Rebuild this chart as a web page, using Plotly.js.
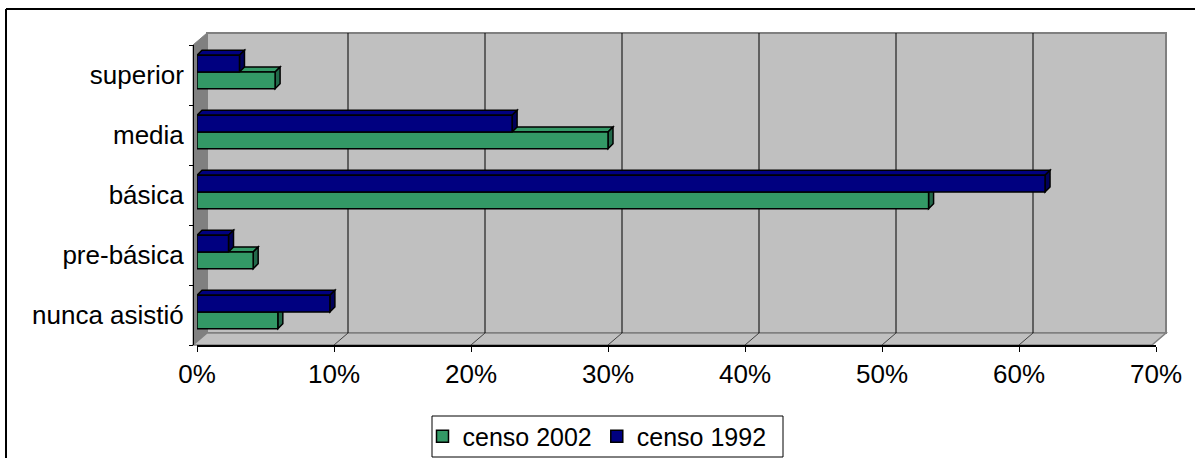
<!DOCTYPE html>
<html>
<head>
<meta charset="utf-8">
<script src="https://cdn.plot.ly/plotly-3.0.1.min.js"></script>
<style>html,body{margin:0;padding:0;background:#fff;overflow:hidden;}#chart{width:1195px;height:458px;}</style>
</head>
<body>
<div id="chart"></div>
<script>
// ---- data ----
const categories = ['nunca asistió', 'pre-básica', 'básica', 'media', 'superior'];
const censo2002 = [5.9, 4.1, 53.4, 30.0, 5.7];
const censo1992 = [9.7, 2.3, 61.9, 23.0, 3.1];
const seriesNames = ['censo 2002', 'censo 1992'];
const xTicks = [0, 10, 20, 30, 40, 50, 60, 70];

// ---- styling / layout constants ----
const W = 1195, H = 458;
const L = 193, R = 39, T = 45, B = 113;         // margins (px)
const PW = W - L - R, PH = H - T - B;            // 963 x 300
const FRONT_W = 959;                              // width of front 0..70 scale
const BAR_SHIFT = 4;                              // bars sit slightly back
const DEPTH_X = 14, DEPTH_Y = 12;                 // back wall offset (px)
const XMAX = 70;
const pxPerX = FRONT_W / XMAX, pxPerY = PH / categories.length;
const DX = 5 / pxPerX, DY = 5 / pxPerY;           // bar depth in data units
const BW = 0.278, OFF2002 = -0.228, OFF1992 = 0.05;
const green = '#339966', greenSide = '#22694a';
const navy = '#000080', navySide = '#00005a';
const FONT = 'Liberation Sans, Arial, sans-serif';
const FS = 26;

const X = px => (px - L) / PW;
const Y = py => (T + PH - py) / PH;

const traces = [
  {type: 'bar', orientation: 'h', name: seriesNames[0], y: categories, x: censo2002,
   offset: OFF2002, width: BW, marker: {color: green, line: {color: '#000', width: 1.5}},
   xaxis: 'x', yaxis: 'y', hoverinfo: 'x+y+name'},
  {type: 'bar', orientation: 'h', name: seriesNames[1], y: categories, x: censo1992,
   offset: OFF1992, width: BW, marker: {color: navy, line: {color: '#000', width: 1.5}},
   xaxis: 'x', yaxis: 'y', hoverinfo: 'x+y+name'}
];

const shapes = [];
const frontBottom = T + PH, backBottom = frontBottom - DEPTH_Y, backTop = T - DEPTH_Y;
const frontRight = L + FRONT_W, backLeft = L + DEPTH_X, backRight = frontRight + DEPTH_X;

// chart area border (top & left visible)
shapes.push({type: 'line', xref: 'paper', yref: 'paper', layer: 'below',
  x0: X(6), x1: X(6), y0: Y(H), y1: Y(9), line: {color: '#000', width: 2}});
shapes.push({type: 'line', xref: 'paper', yref: 'paper', layer: 'below',
  x0: X(6), x1: X(W), y0: Y(9), y1: Y(9), line: {color: '#000', width: 2}});
// legend frame
shapes.push({type: 'rect', xref: 'paper', yref: 'paper', layer: 'below',
  x0: X(432), x1: X(783), y0: Y(457), y1: Y(416),
  fillcolor: '#ffffff', line: {color: '#000', width: 1}});
// back wall
shapes.push({type: 'rect', xref: 'paper', yref: 'paper', layer: 'below',
  x0: X(backLeft), x1: X(backRight), y0: Y(backBottom), y1: Y(backTop),
  fillcolor: '#c0c0c0', line: {color: '#808080', width: 2}});
// left wall
shapes.push({type: 'path', xref: 'paper', yref: 'paper', layer: 'below',
  path: `M${X(L)},${Y(T)} L${X(backLeft)},${Y(backTop)} L${X(backLeft)},${Y(backBottom)} L${X(L)},${Y(frontBottom)} Z`,
  fillcolor: '#808080', line: {color: '#808080', width: 1}});
// floor
shapes.push({type: 'path', xref: 'paper', yref: 'paper', layer: 'below',
  path: `M${X(L)},${Y(frontBottom)} L${X(backLeft)},${Y(backBottom)} L${X(backRight)},${Y(backBottom)} L${X(frontRight)},${Y(frontBottom)} Z`,
  fillcolor: '#c0c0c0', line: {color: '#808080', width: 1.5}});
// back wall gridlines + floor diagonals
xTicks.forEach(v => {
  if (v > 0 && v < XMAX) {
    shapes.push({type: 'line', xref: 'x2', yref: 'paper', layer: 'below',
      xsizemode: 'pixel', xanchor: v, x0: DEPTH_X, x1: DEPTH_X,
      y0: Y(backBottom), y1: Y(backTop), line: {color: '#000', width: 1}});
  }
  if (v > 0) {
    shapes.push({type: 'path', xref: 'x2', yref: 'paper', layer: 'below',
      xsizemode: 'pixel', xanchor: v,
      path: `M0,${Y(frontBottom)} L${DEPTH_X},${Y(backBottom)}`,
      line: {color: '#404040', width: 1}});
  }
});

// 3D faces of bars (drawn below the front faces): 2002 first, then 1992
function addFaces(vals, off, top, side) {
  vals.forEach((v, i) => {
    const b = i + off, t = b + BW;
    shapes.push({type: 'path', xref: 'x', yref: 'y', layer: 'below',
      path: `M0,${t} L${v},${t} L${v + DX},${t + DY} L${DX},${t + DY} Z`,
      fillcolor: top, line: {color: '#000', width: 1.5}});
    shapes.push({type: 'path', xref: 'x', yref: 'y', layer: 'below',
      path: `M${v},${b} L${v},${t} L${v + DX},${t + DY} L${v + DX},${b + DY} Z`,
      fillcolor: side, line: {color: '#000', width: 1.5}});
  });
}
addFaces(censo2002, OFF2002, green, greenSide);
addFaces(censo1992, OFF1992, navy, navySide);

const layout = {
  width: W, height: H,
  margin: {l: L, r: R, t: T, b: B, pad: 0, autoexpand: false},
  paper_bgcolor: '#ffffff', plot_bgcolor: 'rgba(0,0,0,0)',
  font: {family: FONT, size: FS, color: '#000'},
  barmode: 'overlay',
  showlegend: true,
  xaxis: {range: [0, XMAX], domain: [BAR_SHIFT / PW, (BAR_SHIFT + FRONT_W) / PW],
          visible: false, fixedrange: true},
  xaxis2: {range: [0, XMAX], domain: [0, FRONT_W / PW], overlaying: 'x', anchor: 'y', side: 'bottom',
           tickvals: xTicks, ticktext: xTicks.map(v => v + '%'),
           ticks: 'outside', ticklen: 5, tickcolor: '#000', tickwidth: 1,
           showline: true, linecolor: '#000', linewidth: 1.5, showgrid: false, zeroline: false,
           tickfont: {family: FONT, size: FS, color: '#000'}, fixedrange: true},
  yaxis: {type: 'category', categoryorder: 'array', categoryarray: categories,
          range: [-0.5, categories.length - 0.5], domain: [0, 1],
          anchor: 'free', position: 0, tickson: 'boundaries',
          ticks: 'outside', ticklen: 4, tickcolor: '#000', tickwidth: 1,
          ticklabelstandoff: 4,
          showline: true, linecolor: '#000', linewidth: 1, showgrid: false, zeroline: false,
          tickfont: {family: FONT, size: FS, color: '#000'}, fixedrange: true},
  legend: {orientation: 'h', x: X(597), xanchor: 'center', y: Y(436.5), yanchor: 'middle',
           borderwidth: 0, bgcolor: 'rgba(0,0,0,0)',
           font: {family: FONT, size: 25, color: '#000'}, traceorder: 'normal',
           itemwidth: 30, tracegroupgap: 0},
  shapes: shapes
};

Plotly.newPlot('chart', traces, layout, {displayModeBar: false, staticPlot: true});
</script>
</body>
</html>
